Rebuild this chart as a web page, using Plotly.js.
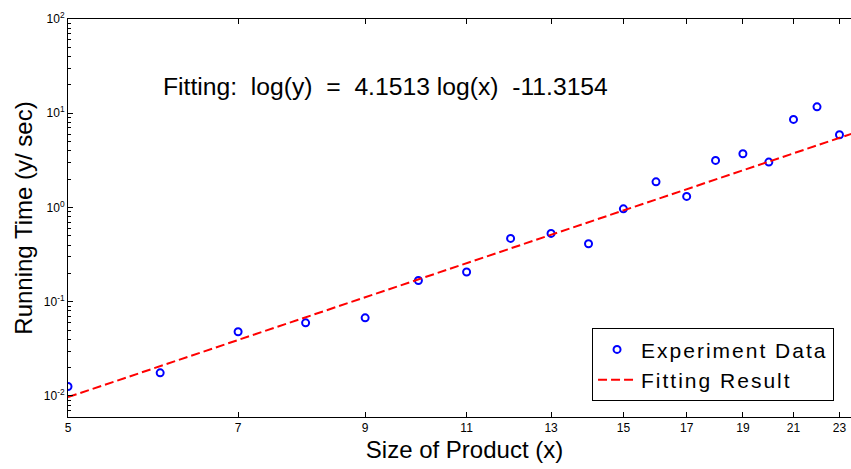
<!DOCTYPE html>
<html>
<head>
<meta charset="utf-8">
<script src="https://cdn.plot.ly/plotly-3.0.1.min.js"></script>
<style>
html, body { margin: 0; padding: 0; overflow: hidden; background: #fff; }
#chart { width: 861px; height: 469px; }
.legendtext { letter-spacing: 2px; }
</style>
</head>
<body>
<div id="chart"></div>
<script>
// Experiment data
const sizeX = [5, 6, 7, 8, 9, 10, 11, 12, 13, 14, 15, 16, 17, 18, 19, 20, 21, 22, 23];
const runTime = [0.0126, 0.0176, 0.048, 0.0597, 0.0675, 0.168, 0.207, 0.470, 0.531, 0.412,
                 0.968, 1.87, 1.31, 3.16, 3.72, 3.03, 8.6, 11.7, 5.92];

// Fitting result line endpoints (log(y) = 4.1513 log(x) - 11.3154)
const fitX = [5, 24];
const fitY = [0.00972, 6.54];

const xTickVals = [5, 7, 9, 11, 13, 15, 17, 19, 21, 23];
const xTickText = ['5', '7', '9', '11', '13', '15', '17', '19', '21', '23'];

const yTickVals = [0.01, 0.1, 1, 10, 100];
const yTickText = ['10<sup>-2</sup>', '10<sup>-1</sup>', '10<sup>0</sup>', '10<sup>1</sup>', '10<sup>2</sup>'];

// minor log ticks (2..9 of each decade)
const yMinorVals = [];
[0.001, 0.01, 0.1, 1, 10].forEach(function (d) {
  for (let m = 2; m <= 9; m++) yMinorVals.push(m * d);
});

const fitText = 'Fitting:\u00A0 log(y)\u00A0 =\u00A0 4.1513 log(x)\u00A0 -11.3154';

const font = 'Liberation Sans, Arial, Helvetica, sans-serif';
const yRange = [-2.223, 2];

const traces = [
  {
    x: sizeX, y: runTime, type: 'scatter', mode: 'markers',
    name: 'Experiment Data',
    marker: { symbol: 'circle-open', size: 7, color: '#0000FF', line: { width: 2, color: '#0000FF' } }
  },
  {
    x: fitX, y: fitY, type: 'scatter', mode: 'lines',
    name: 'Fitting Result',
    line: { color: '#FF0000', width: 2, dash: '9px,4px' }
  },
  {
    // carrier for the minor-tick axis (no marks)
    x: [], y: [], type: 'scatter', mode: 'markers', yaxis: 'y2',
    showlegend: false, hoverinfo: 'skip'
  }
];

const layout = {
  width: 861, height: 469,
  margin: { l: 68, r: 0, t: 19, b: 52 },
  paper_bgcolor: '#fff', plot_bgcolor: '#fff',
  font: { family: font, color: '#000' },
  showlegend: true,
  legend: {
    x: 0.966, y: 0.0395, xanchor: 'right', yanchor: 'bottom',
    bgcolor: '#fff', bordercolor: '#000', borderwidth: 1,
    font: { family: font, size: 21, color: '#000' },
    itemwidth: 38, tracegroupgap: 0
  },
  xaxis: {
    type: 'log',
    range: [Math.log10(5), Math.log10(24)],
    tickvals: xTickVals, ticktext: xTickText,
    ticks: 'inside', ticklen: 5, tickwidth: 1, tickcolor: '#000',
    mirror: 'ticks', showline: true, linecolor: '#000', linewidth: 1,
    showgrid: false, zeroline: false,
    tickfont: { family: font, size: 12, color: '#000' },
    title: { text: 'Size of Product (x)', font: { family: font, size: 24, color: '#000' }, standoff: 6 }
  },
  yaxis: {
    type: 'log',
    range: yRange,
    tickvals: yTickVals, ticktext: yTickText,
    ticks: 'inside', ticklen: 5, tickwidth: 1, tickcolor: '#000',
    mirror: 'ticks', showline: true, linecolor: '#000', linewidth: 1,
    showgrid: false, zeroline: false,
    tickfont: { family: font, size: 12, color: '#000' },
    title: { text: 'Running Time (y/ sec)', font: { family: font, size: 24, color: '#000' }, standoff: 4 }
  },
  yaxis2: {
    type: 'log', overlaying: 'y', anchor: 'x', side: 'left',
    range: yRange,
    tickmode: 'array', tickvals: yMinorVals, showticklabels: false,
    ticks: 'inside', ticklen: 3, tickwidth: 1, tickcolor: '#000',
    showline: false, showgrid: false, zeroline: false
  },
  annotations: [
    {
      xref: 'paper', yref: 'paper', x: 0.117, y: 0.8315,
      xanchor: 'left', yanchor: 'middle', showarrow: false,
      text: fitText, font: { family: font, size: 24.7, color: '#000' }
    }
  ]
};

Plotly.newPlot('chart', traces, layout, { staticPlot: true, displayModeBar: false });
</script>
</body>
</html>
